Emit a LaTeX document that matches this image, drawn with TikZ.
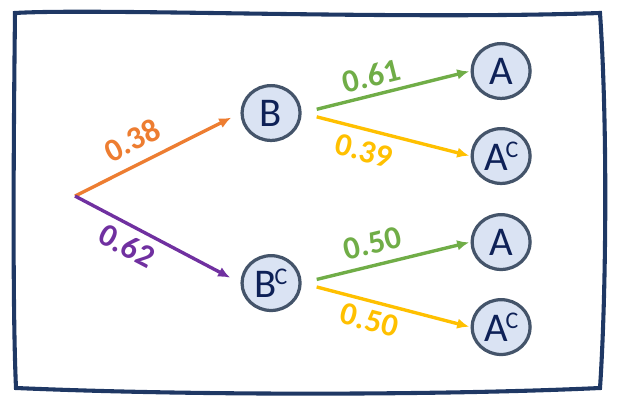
\documentclass[tikz,border=0pt]{standalone}
\usepackage{fontspec}
\setmainfont{Carlito}
\usetikzlibrary{arrows.meta,positioning,shapes.geometric}

\definecolor{navy}{HTML}{1F3864}
\definecolor{ink}{HTML}{0E2157}
\definecolor{rim}{HTML}{44546A}
\definecolor{pale}{HTML}{DAE3F3}
\definecolor{orng}{HTML}{ED7D31}
\definecolor{purp}{HTML}{7030A0}
\definecolor{grn}{HTML}{70AD47}
\definecolor{yell}{HTML}{FFC000}

\newcommand{\compl}{\kern-1.5pt\raisebox{9.5pt}{\fontsize{17}{17}\selectfont C}}

\begin{document}
\begin{tikzpicture}[>={Latex[length=8.5pt,width=7.5pt]}, on grid,
  event/.style={ellipse, draw=rim, line width=2.3pt, fill=pale, text=ink, inner sep=0pt,
    minimum width=1.45cm, minimum height=1.37cm, font=\fontsize{29}{29}\selectfont},
  branch/.style={->, line width=2.4pt},
  prob/.style={sloped, font=\fontsize{23}{23}\selectfont\bfseries}]

\begin{scope}[x=0.025cm,y=-0.025cm]
\useasboundingbox (0,0) rectangle (619,405);
\draw[navy, line width=2.9pt, line join=miter]
  (15,13) .. controls (100,8) and (400,20) .. (600,13)
  .. controls (608,130) and (606,300) .. (600,388)
  .. controls (450,395) and (200,396) .. (16,388)
  .. controls (12,300) and (14,100) .. cycle;
\end{scope}

\coordinate (root) at (1.875,-4.9);

\node (b) [event] at (6.775,-2.825) {B};
\node (bc) [event] at (6.775,-7.075) {B\compl};

\node (a1) [event, above right=1.05cm and 5.75cm of b] {A};
\node (a2) [event, below right=1.075cm and 5.75cm of b] {A\compl};
\node (a3) [event, above right=1.025cm and 5.75cm of bc] {A};
\node (a4) [event, below right=1.1cm and 5.75cm of bc] {A\compl};

\draw[branch, orng, shorten >=7.4pt] (root) -- node[prob, pos=.41, above=4.8pt] {0.38} (b.west);
\draw[branch, purp, shorten >=8.3pt] (root) -- node[prob, pos=.37, below=1.6pt] {0.62} (bc.west);

\draw[branch, grn, shorten <=11pt, shorten >=1pt] (b.east) -- node[prob, pos=.44, above=1.5pt] {0.61} (a1.west);
\draw[branch, yell, shorten <=11pt, shorten >=1pt] (b.east) -- node[prob, pos=.40, below=3pt] {0.39} (a2.west);
\draw[branch, grn, shorten <=11pt, shorten >=1pt] (bc.east) -- node[prob, pos=.45, above=3.3pt] {0.50} (a3.west);
\draw[branch, yell, shorten <=11pt, shorten >=1pt] (bc.east) -- node[prob, pos=.43, below=1.1pt] {0.50} (a4.west);

\end{tikzpicture}
\end{document}
